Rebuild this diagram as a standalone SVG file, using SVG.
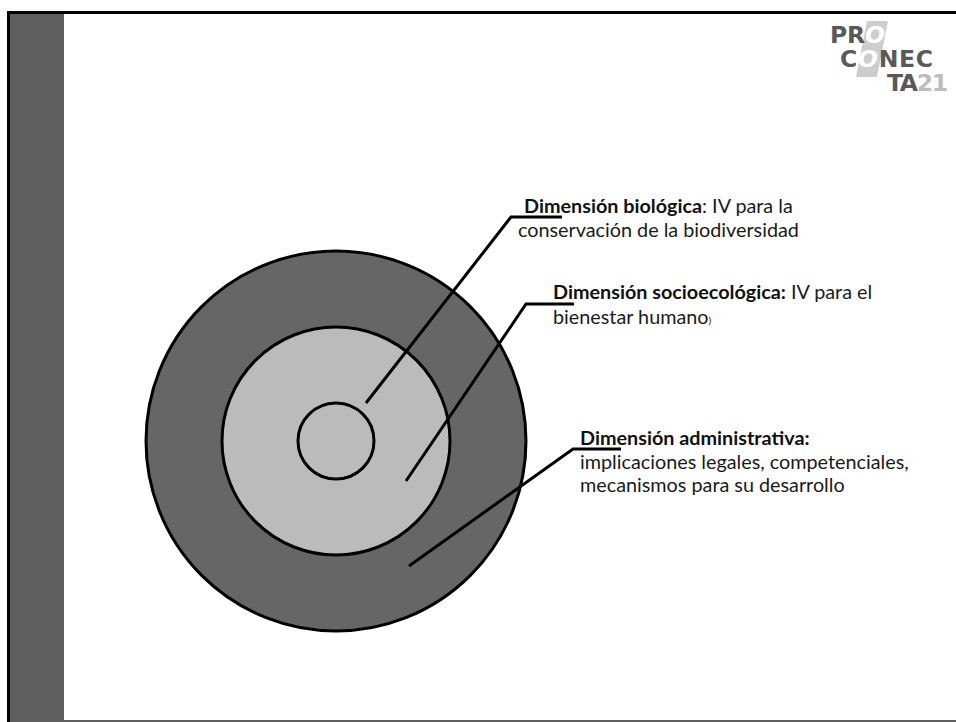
<svg xmlns="http://www.w3.org/2000/svg" width="956" height="722" viewBox="0 0 956 722">
<style>
.t{font-family:"Lato","Liberation Sans",sans-serif;font-size:19.8px;fill:#1a1a1a}
.b{font-weight:700;fill:#111}
.ring{stroke:#000;stroke-width:3}
.c{fill:none;stroke:#000;stroke-width:3}
.l{font-family:"DejaVu Sans","Liberation Sans",sans-serif;font-weight:700;font-size:23.5px;fill:#595959}
</style>
<rect width="956" height="722" fill="#fff"/>
<g id="frame">
<rect x="10" y="14" width="54" height="708" fill="#5f5f5f"/>
<rect x="64" y="720" width="892" height="2" fill="#5f5f5f"/>
<rect x="7" y="11" width="3" height="711" fill="#000"/>
<rect x="7" y="11" width="949" height="3" fill="#000"/>
</g>
<g id="logo">
<polygon points="867,21 888,21 877,77 856,77" fill="#cdcdcd"/>
<text class="l" x="830" y="43" textLength="55" lengthAdjust="spacing">PR<tspan font-style="italic" style="fill:#fff">O</tspan></text>
<text class="l" x="840" y="67" textLength="93" lengthAdjust="spacing">C<tspan font-style="italic" style="fill:#fff">O</tspan>NEC</text>
<text class="l" x="887" y="91" textLength="61" lengthAdjust="spacing">TA<tspan style="fill:#bdbdbd">21</tspan></text>
</g>
<g id="outer-circle"><circle cx="336" cy="441" r="190" fill="#666" class="ring"/></g>
<g id="middle-circle"><circle cx="336" cy="441" r="114" fill="#bbb" class="ring"/></g>
<g id="inner-circle"><circle cx="336" cy="441" r="38" fill="#bbb" class="ring"/></g>
<g id="connectors">
<polyline class="c" points="366,403 511,217 562,217"/>
<polyline class="c" points="406,481 526,304 574,304"/>
<polyline class="c" points="409,566 573,449 621,449"/>
</g>
<g id="label-biologica">
<text class="t" x="524" y="212.500"><tspan class="b">Dimensión biológica</tspan>: IV para la</text>
<text class="t" x="518" y="237">conservación de la biodiversidad</text>
</g>
<g id="label-socioecologica">
<text class="t" x="553" y="299"><tspan class="b">Dimensión socioecológica:</tspan> IV para el</text>
<text class="t" x="553" y="323.500">bienestar humano<tspan font-size="10">)</tspan></text>
</g>
<g id="label-administrativa">
<text class="t b" x="580" y="445">Dimensión administrativa:</text>
<text class="t" x="580" y="468.500">implicaciones legales, competenciales,</text>
<text class="t" x="580" y="492">mecanismos para su desarrollo</text>
</g>
</svg>
